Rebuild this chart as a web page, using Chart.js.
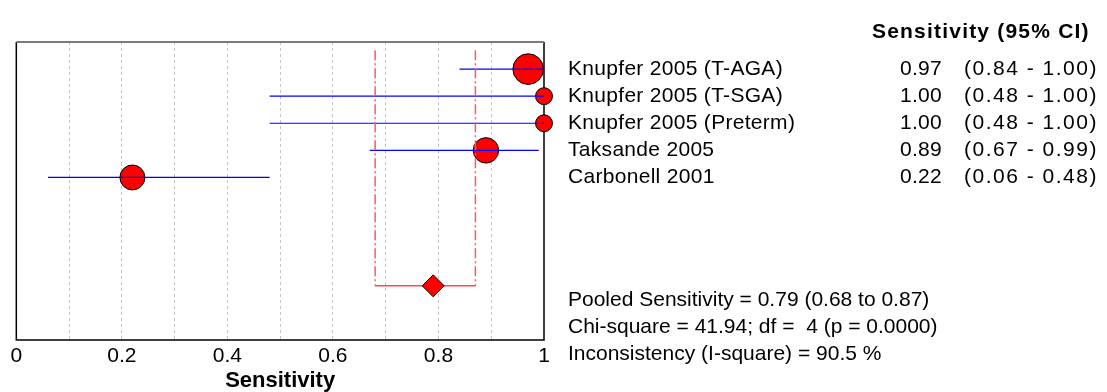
<!DOCTYPE html>
<html>
<head>
<meta charset="utf-8">
<script src="https://cdn.jsdelivr.net/npm/chart.js@4"></script>
<style>
  html, body { margin: 0; padding: 0; background: #fff; }
  #forest { display: block; }
</style>
</head>
<body>
<canvas id="forest" width="1107" height="392"></canvas>
<script>
const studies = ['Knupfer 2005 (T-AGA)', 'Knupfer 2005 (T-SGA)', 'Knupfer 2005 (Preterm)', 'Taksande 2005', 'Carbonell 2001'];
const sensitivity = [0.97, 1.00, 1.00, 0.89, 0.22];
const ciLower = [0.84, 0.48, 0.48, 0.67, 0.06];
const ciUpper = [1.00, 1.00, 1.00, 0.99, 0.48];
const diseased = [32, 5, 5, 19, 18];   // marker size follows study size

const pooledSens = 0.79;
const pooledLower = 0.68;
const pooledUpper = 0.87;

const statsText = [
  'Pooled Sensitivity = 0.79 (0.68 to 0.87)',
  'Chi-square = 41.94; df =  4 (p = 0.0000)',
  'Inconsistency (I-square) = 90.5 %'
];
const headerText = 'Sensitivity (95% CI)';
const xTickLabels = ['0', '0.2', '0.4', '0.6', '0.8', '1'];

const font = "Arial, 'Liberation Sans', sans-serif";
const rowOf = i => i + 1;
const pooledRow = studies.length + 4;
const bracketTop = 0.3;
const dashDot = [10, 3, 2, 3];

const fmt = v => v.toFixed(2);

const datasets = [];

// study markers
datasets.push({
  type: 'scatter',
  data: sensitivity.map((s, i) => ({ x: s, y: rowOf(i) })),
  pointStyle: 'circle',
  pointRadius: diseased.map(n => 4 + 2 * Math.sqrt(n)),
  backgroundColor: '#FF0000',
  borderColor: '#000000',
  borderWidth: 1,
  order: 3
});

// confidence interval lines
studies.forEach((name, i) => {
  datasets.push({
    type: 'line',
    data: [{ x: ciLower[i], y: rowOf(i) }, { x: ciUpper[i], y: rowOf(i) }],
    borderColor: '#0000FF',
    borderWidth: 1.2,
    pointRadius: 0,
    order: 2
  });
});

// pooled CI: dash-dot verticals and a solid bar
[pooledLower, pooledUpper].forEach(v => {
  datasets.push({
    type: 'line',
    data: [{ x: v, y: bracketTop }, { x: v, y: pooledRow }],
    borderColor: '#FF5A5A',
    borderWidth: 1.5,
    borderDash: dashDot,
    pointRadius: 0,
    order: 1
  });
});
datasets.push({
  type: 'line',
  data: [{ x: pooledLower, y: pooledRow }, { x: pooledUpper, y: pooledRow }],
  borderColor: '#FF4A4A',
  borderWidth: 1.5,
  pointRadius: 0,
  order: 1
});

// pooled diamond
datasets.push({
  type: 'scatter',
  data: [{ x: pooledSens, y: pooledRow }],
  pointStyle: 'rectRot',
  pointRadius: 11,
  backgroundColor: '#FF0000',
  borderColor: '#000000',
  borderWidth: 1,
  order: 0
});

const framePlugin = {
  id: 'frame',
  beforeDatasetsDraw(chart) {
    const { ctx, chartArea: a } = chart;
    ctx.save();
    ctx.strokeStyle = '#000000';
    ctx.lineWidth = 1.5;
    ctx.beginPath();
    ctx.moveTo(a.left, a.top);
    ctx.lineTo(a.left, a.bottom);
    ctx.lineTo(a.right, a.bottom);
    ctx.lineTo(a.right, a.top);
    ctx.stroke();
    ctx.strokeStyle = '#7a7a7a';
    ctx.lineWidth = 2;
    ctx.beginPath();
    ctx.moveTo(a.left, a.top);
    ctx.lineTo(a.right, a.top);
    ctx.stroke();
    ctx.restore();
  }
};

const textPlugin = {
  id: 'sideText',
  afterDraw(chart) {
    const { ctx } = chart;
    const y = chart.scales.y;
    ctx.save();
    ctx.fillStyle = '#000000';
    ctx.textBaseline = 'alphabetic';

    ctx.font = 'bold 21px ' + font;
    ctx.letterSpacing = '1.2px';
    ctx.textAlign = 'left';
    ctx.fillText(headerText, 872, 38);

    ctx.font = '21px ' + font;
    studies.forEach((name, i) => {
      const py = y.getPixelForValue(rowOf(i)) + 6;
      ctx.letterSpacing = '0.3px';
      ctx.textAlign = 'left';
      ctx.fillText(name, 568, py);
      ctx.textAlign = 'right';
      ctx.fillText(fmt(sensitivity[i]), 942, py);
      ctx.letterSpacing = '1.5px';
      ctx.textAlign = 'left';
      ctx.fillText('(' + fmt(ciLower[i]) + ' - ' + fmt(ciUpper[i]) + ')', 964, py);
    });

    ctx.letterSpacing = '0px';
    ctx.textAlign = 'left';
    statsText.forEach((line, k) => {
      ctx.fillText(line, 568, y.getPixelForValue(pooledRow + 0.75 + k));
    });
    ctx.restore();
  }
};

new Chart(document.getElementById('forest'), {
  type: 'scatter',
  data: { datasets },
  options: {
    responsive: false,
    animation: false,
    events: [],
    layout: { padding: { left: 16, right: 563, top: 42, bottom: 0 } },
    datasets: { scatter: { clip: false }, line: { clip: false } },
    plugins: {
      legend: { display: false },
      tooltip: { enabled: false }
    },
    scales: {
      x: {
        type: 'linear',
        min: 0,
        max: 1,
        afterFit(scale) { scale.height = 52; },
        ticks: {
          stepSize: 0.1,
          autoSkip: false,
          maxRotation: 0,
          padding: 4,
          color: '#000000',
          font: { family: font, size: 21 },
          callback: (v, i) => (i % 2 === 0 ? xTickLabels[i / 2] : '')
        },
        grid: {
          drawTicks: false,
          lineWidth: 1,
          color: ctx => (ctx.index === 0 || ctx.index === 10 ? 'rgba(0,0,0,0)' : '#C4C4C4')
        },
        border: { display: false, dash: [3, 3] },
        title: {
          display: true,
          text: 'Sensitivity',
          color: '#000000',
          padding: 0,
          font: { family: font, size: 22, weight: 'bold', lineHeight: 1 }
        }
      },
      y: {
        type: 'linear',
        display: false,
        reverse: true,
        min: 0,
        max: 11
      }
    }
  },
  plugins: [framePlugin, textPlugin]
});
</script>
</body>
</html>
